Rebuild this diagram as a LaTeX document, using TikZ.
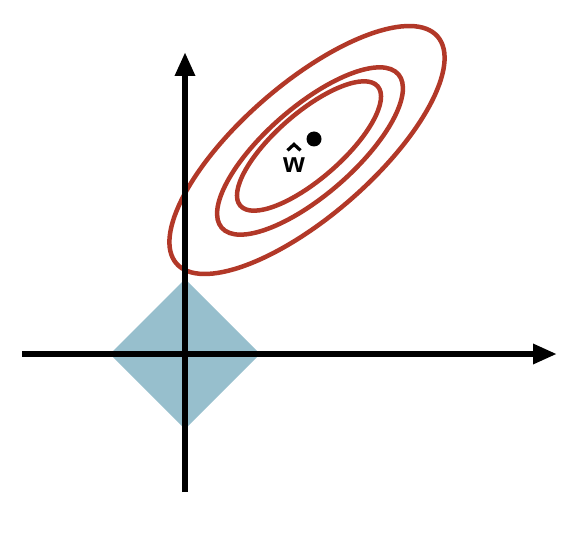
\documentclass[tikz,border=0pt]{standalone}
\usepackage{fontspec}
\setmainfont{Liberation Sans}
\usetikzlibrary{arrows.meta}
\definecolor{contourred}{RGB}{178,56,40}
\definecolor{ballblue}{RGB}{151,191,205}
\begin{document}
\begin{tikzpicture}[x=1pt, y=1pt,
    axis/.style={line width=6.5pt, -{Triangle[length=24pt,width=19pt]}},
    contour/.style={draw=contourred, line width=4.5pt}]
            \useasboundingbox (0,0) rectangle (588,536);
            \fill[ballblue] (110,182) -- (185,257) -- (260,182) -- (185,107) -- cycle;
            \draw[contour, rotate around={41:(307,386)}] (307,386) ellipse (173 and 66);
            \draw[contour, rotate around={41:(310,385)}] (310,385) ellipse (117 and 44);
            \draw[contour, rotate around={41:(309,390)}] (309,390) ellipse (91 and 33);
            \draw[axis] (22,182) -- (557,182);
            \draw[axis] (185,44) -- (185,484);
            \fill (314,397) circle (7.5);
            \node[font=\bfseries\fontsize{28}{28}\selectfont, inner sep=0pt] (w) at (294,371) {w};
            \draw[line width=3.2pt] ([xshift=-6.5pt, yshift=7pt]w.north) -- ++(6.5,6) -- ++(6.5,-6);
        \end{tikzpicture}
\end{document}
